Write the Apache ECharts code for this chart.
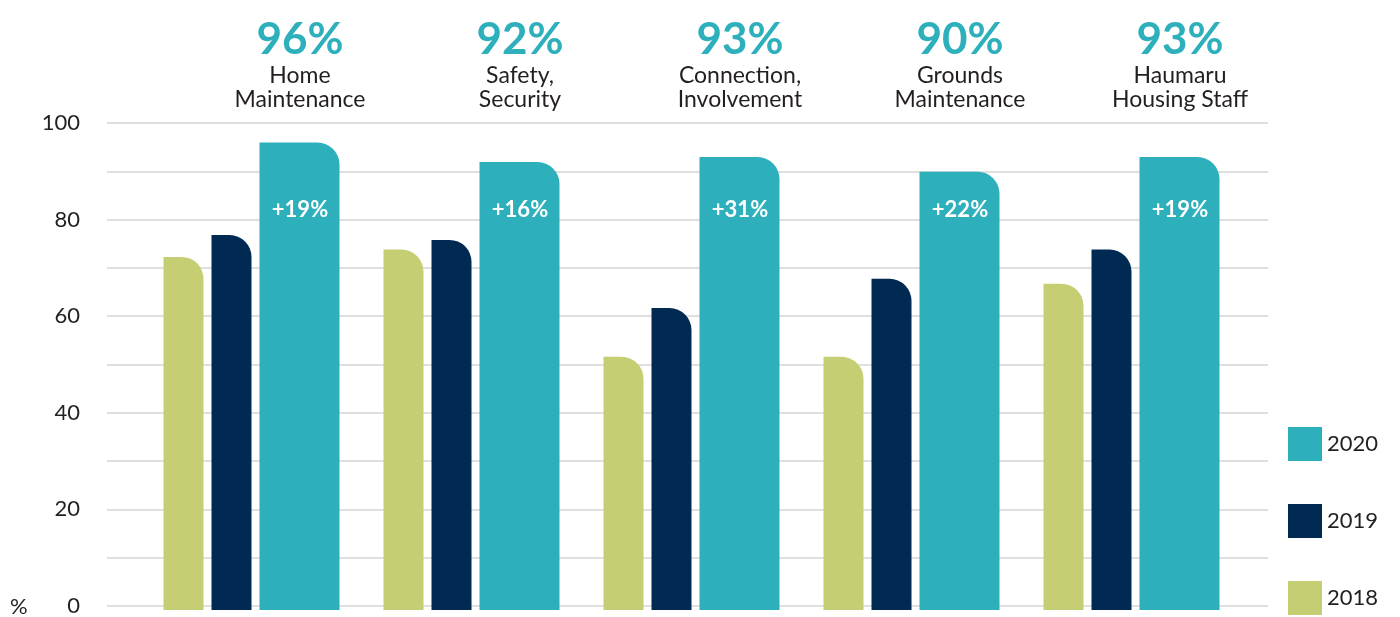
<!DOCTYPE html>
<html><head><meta charset="utf-8">
<script src="https://cdn.jsdelivr.net/npm/echarts@6/dist/echarts.min.js"></script>
<style>html,body{margin:0;padding:0;background:#fff;overflow:hidden}#c{width:1400px;height:617px}</style>
</head><body><div id="c"></div>
<script>
const categories = ['Home\nMaintenance', 'Safety,\nSecurity', 'Connection,\nInvolvement', 'Grounds\nMaintenance', 'Haumaru\nHousing Staff'];
const values2018 = [72.5, 74, 52, 52, 67];
const values2019 = [77, 76, 62, 68, 74];
const values2020 = [96, 92, 93, 90, 93];
const changeLabels = ['+19%', '+16%', '+31%', '+22%', '+19%'];
const yTicks = [0, 20, 40, 60, 80, 100];

const FONT = 'Lato, "Open Sans", sans-serif';
const TEXT = '#231f20';
const C18 = '#c6ce74', C19 = '#002a52', C20 = '#2eb0bc';

const chart = echarts.init(document.getElementById('c'), null, {renderer: 'canvas'});
const gridTop = 123, gridBottom = 7;
const radius = [0, 22, 0, 0];

chart.setOption({
  animation: false,
  textStyle: {fontFamily: FONT},
  legend: {
    data: ['2020', '2019', '2018'],
    orient: 'vertical', left: 1288, top: 427, padding: 0,
    icon: 'rect', itemWidth: 34, itemHeight: 34, itemGap: 43,
    textStyle: {fontFamily: FONT, fontSize: 22, color: TEXT},
    selectedMode: false
  },
  grid: [
    {left: 107, right: 132, top: gridTop, bottom: gridBottom},
    {left: 141.5, width: 1100, top: gridTop, bottom: gridBottom},
    {left: 190, width: 1100, top: gridTop, bottom: gridBottom}
  ],
  xAxis: [
    {gridIndex: 0, type: 'category', data: categories, show: false},
    {gridIndex: 1, type: 'category', data: categories, show: false},
    {gridIndex: 2, type: 'category', data: categories, position: 'top', z: 10,
      axisLine: {show: false}, axisTick: {show: false}, splitLine: {show: false},
      axisLabel: {
        margin: 11, interval: 0, fontFamily: FONT,
        formatter: function (v, i) {
          const lines = v.split('\n').map(s => '{name|' + s + '}').join('\n');
          return '{pct|' + values2020[i] + '%}\n' + lines;
        },
        rich: {
          pct: {fontSize: 44, fontWeight: 'bold', color: C20, lineHeight: 48, fontFamily: FONT},
          name: {fontSize: 23, color: TEXT, lineHeight: 24, fontFamily: FONT}
        }
      }
    },
    {gridIndex: 2, type: 'category', data: changeLabels, position: 'top', offset: -87, z: 10,
      axisLine: {show: false}, axisTick: {show: false}, splitLine: {show: false},
      axisLabel: {margin: 0, interval: 0, verticalAlign: 'middle', color: '#ffffff',
        fontSize: 22, fontWeight: 'bold', fontFamily: FONT}
    }
  ],
  yAxis: [
    {gridIndex: 0, type: 'value', min: 0, max: 100, interval: 10,
      axisLine: {show: false}, axisTick: {show: false},
      splitLine: {lineStyle: {color: '#d4d4d4', width: 1.5}},
      axisLabel: {margin: 27, fontSize: 22, color: TEXT, fontFamily: FONT,
        formatter: v => (yTicks.indexOf(v) >= 0 ? String(v) : '')}
    },
    {gridIndex: 1, type: 'value', min: 0, max: 100, show: false},
    {gridIndex: 2, type: 'value', min: 0, max: 100, show: false}
  ],
  graphic: [
    {type: 'text', left: 10, top: 596, style: {text: '%', fontSize: 22, fill: TEXT, fontFamily: FONT}}
  ],
  series: [
    {name: '2018', type: 'bar', xAxisIndex: 1, yAxisIndex: 1, data: values2018,
      barWidth: 40, barGap: '20%', itemStyle: {color: C18, borderRadius: radius}},
    {name: '2019', type: 'bar', xAxisIndex: 1, yAxisIndex: 1, data: values2019,
      barWidth: 40, barGap: '20%', itemStyle: {color: C19, borderRadius: radius}},
    {name: '2020', type: 'bar', xAxisIndex: 1, yAxisIndex: 1, data: values2020,
      barWidth: 80, barGap: '20%', itemStyle: {color: C20, borderRadius: radius}}
  ]
});
</script></body></html>
